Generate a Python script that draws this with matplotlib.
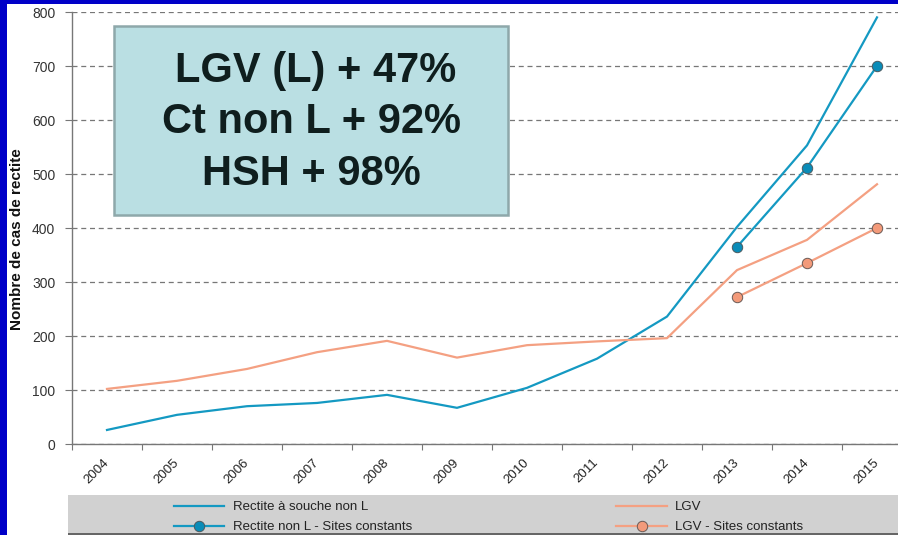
import matplotlib
matplotlib.use("Agg")
import matplotlib.pyplot as plt
from matplotlib.patches import Rectangle
from matplotlib.lines import Line2D

years = ["2004", "2005", "2006", "2007", "2008", "2009", "2010", "2011", "2012", "2013", "2014", "2015"]
rectite_non_l = [26, 54, 70, 76, 91, 67, 104, 158, 236, 402, 553, 790]
lgv = [102, 117, 139, 170, 191, 160, 183, 190, 196, 322, 378, 481]
sites_years = ["2013", "2014", "2015"]
rectite_sites = [365, 512, 700]
lgv_sites = [272, 335, 400]
y_ticks = [0, 100, 200, 300, 400, 500, 600, 700, 800]
box_lines = ["LGV (L) + 47%", "Ct non L + 92%", "HSH + 98%"]
legend_labels = ["Rectite à souche non L", "Rectite non L - Sites constants", "LGV", "LGV - Sites constants"]

W, H = 898, 535
fig = plt.figure(figsize=(W / 100, H / 100), dpi=100)
fig.patch.set_facecolor("white")

arial = ["Liberation Sans", "DejaVu Sans"]

BLUE = "#1499c2"
ORANGE = "#f4a082"
BLUE_M = "#0a8cb8"
ORANGE_M = "#f39a7a"

def fx(px):
    return px / W

def fy(py):
    return 1 - py / H

ax_left, ax_right, ax_top, ax_bot = 72, 912, 12, 444
ax = fig.add_axes([fx(ax_left), fy(ax_bot), (ax_right - ax_left) / W, (ax_bot - ax_top) / H])
ax.set_facecolor("none")

x = list(range(len(years)))
xs = [years.index(y) for y in sites_years]

ax.plot(x, rectite_non_l, color=BLUE, lw=1.6, zorder=3)
ax.plot(x, lgv, color=ORANGE, lw=1.6, zorder=3)
ax.plot(xs, rectite_sites, color=BLUE, lw=1.6, marker="o", ms=7.5,
        mfc=BLUE_M, mec="#4a5a60", mew=0.7, zorder=4)
ax.plot(xs, lgv_sites, color=ORANGE, lw=1.6, marker="o", ms=7.5,
        mfc=ORANGE_M, mec="#6a5a55", mew=0.7, zorder=4)

ax.set_xlim(-0.5, len(years) - 0.5)
ax.set_ylim(0, 800)
ax.set_yticks(y_ticks)
ax.set_yticklabels([str(v) for v in y_ticks], fontfamily=arial, fontsize=10, color="#333333")
ax.yaxis.grid(True, linestyle=(0, (4, 3)), color="#777777", lw=0.9)
ax.set_axisbelow(True)

ax.set_xticks([i - 0.5 for i in range(len(years) + 1)])
ax.set_xticklabels([])
ax.set_xticks(x, minor=True)
ax.set_xticklabels(years, minor=True, rotation=45, ha="right", va="center",
                   rotation_mode="anchor", fontfamily=arial, fontsize=9.5, color="#222222")
ax.tick_params(axis="x", which="major", length=4, width=0.8, color="#777777", direction="out")
ax.tick_params(axis="x", which="minor", length=0, pad=12)
ax.tick_params(axis="y", length=5, width=0.8, color="#777777", pad=7)

for s in ["top", "right"]:
    ax.spines[s].set_visible(False)
for s in ["left", "bottom"]:
    ax.spines[s].set_color("#777777")
    ax.spines[s].set_linewidth(1.0)

fig.text(fx(17), fy(239), "Nombre de cas de rectite", rotation=90, ha="center", va="center",
         fontfamily=arial, fontweight="bold", fontsize=11, color="#111111")

# annotation box
fig.patches.append(Rectangle((fx(114), fy(215)), (508 - 114) / W, (215 - 26) / H,
                             transform=fig.transFigure, facecolor="#badfe3",
                             edgecolor="#8ea8aa", lw=1.8, zorder=5))
for txt, yc, xc in zip(box_lines, [71, 122, 174], [316, 311, 311]):
    fig.text(fx(xc), fy(yc), txt, ha="center", va="center", fontfamily=arial,
             fontweight="bold", fontsize=30, color="#0f1e1e", zorder=6)

# legend background
fig.patches.append(Rectangle((fx(68), fy(533)), (W - 68) / W, (533 - 495) / H,
                             transform=fig.transFigure, facecolor="#d1d1d1",
                             edgecolor="none", zorder=1))
fig.patches.append(Rectangle((fx(68), 0), (W - 68) / W, 2 / H,
                             transform=fig.transFigure, facecolor="#666666",
                             edgecolor="none", zorder=1))

h1 = Line2D([], [], color=BLUE, lw=1.6)
h2 = Line2D([], [], color=BLUE, lw=1.6, marker="o", ms=7.5, mfc=BLUE_M, mec="#4a5a60", mew=0.7)
h3 = Line2D([], [], color=ORANGE, lw=1.6)
h4 = Line2D([], [], color=ORANGE, lw=1.6, marker="o", ms=7.5, mfc=ORANGE_M, mec="#6a5a55", mew=0.7)
leg = fig.legend([h1, h2, h3, h4], legend_labels, ncol=2, frameon=False,
                 loc="upper left", bbox_to_anchor=(fx(174), fy(501)),
                 prop={"family": arial, "size": 9.5}, handlelength=3.8,
                 handletextpad=0.65, columnspacing=15.5, labelspacing=0.6,
                 borderaxespad=0, borderpad=0)
for t in leg.get_texts():
    t.set_color("#222222")

# blue borders
fig.patches.append(Rectangle((0, 0), 7 / W, 1, transform=fig.transFigure,
                             facecolor="#0000c8", edgecolor="none", zorder=10))
fig.patches.append(Rectangle((0, fy(4)), 1, 4 / H, transform=fig.transFigure,
                             facecolor="#0000c8", edgecolor="none", zorder=10))

fig.savefig("out.png", dpi=100)
